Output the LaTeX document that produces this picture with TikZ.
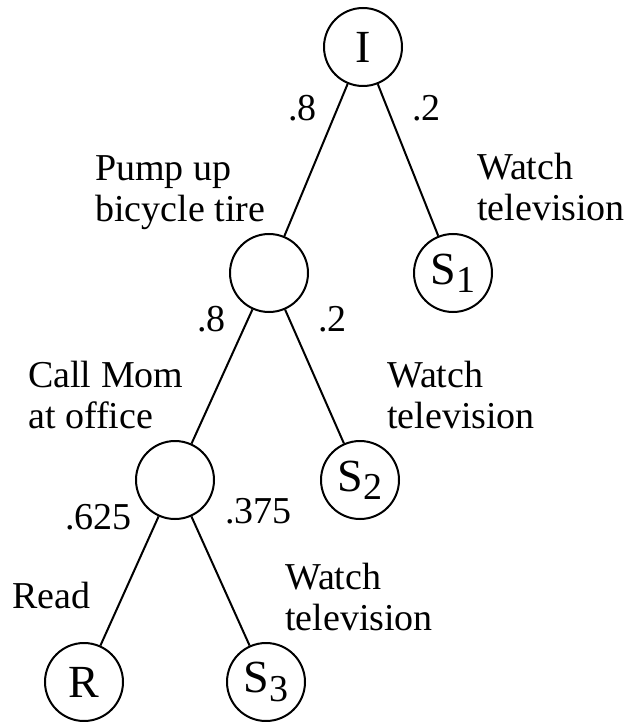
\documentclass[tikz,border=0pt]{standalone}
\usepackage{fontspec}
\setmainfont{Liberation Serif}
\newcommand\subidx[1]{\raisebox{-0.18em}{\fontsize{38}{38}\selectfont #1}}
\begin{document}
\begin{tikzpicture}[x=1pt,y=-1pt,
  state/.style={circle, draw, line width=2pt, minimum size=78pt, inner sep=0pt, font=\fontsize{46}{46}\selectfont},
  lbl/.style={anchor=base west, inner sep=0pt, align=left, font=\fontsize{38}{41}\selectfont},
  branch/.style={line width=2pt}]
\useasboundingbox (0,0) rectangle (633,722);
\node[state] (I)  at (363,47)  {I};
\node[state] (M1) at (269,273) {};
\node[state] (S1) at (453,273) {S\subidx{1}};
\node[state] (M2) at (175,480) {};
\node[state] (S2) at (360,480) {S\subidx{2}};
\node[state] (R)  at (84,682)  {R};
\node[state] (S3) at (266,682) {S\subidx{3}};
\draw[branch] (I) -- (M1);
\draw[branch] (I) -- (S1);
\draw[branch] (M1) -- (M2);
\draw[branch] (M1) -- (S2);
\draw[branch] (M2) -- (R);
\draw[branch] (M2) -- (S3);
\node[lbl] (p1) at (288,121) {.8};
\node[lbl] (p2) at (412,121) {.2};
\node[lbl] (p3) at (197,331) {.8};
\node[lbl] (p4) at (318,331) {.2};
\node[lbl] (p5) at (65,529) {.625};
\node[lbl] (p6) at (225,523) {.375};
\node[lbl] (a1) at (95,221) {Pump up\\bicycle tire};
\node[lbl] (w1) at (477,220) {Watch\\television};
\node[lbl] (a2) at (28,428) {Call Mom\\at office};
\node[lbl] (w2) at (387,428) {Watch\\television};
\node[lbl] (w3) at (285,630) {Watch\\television};
\node[lbl] (rd) at (12,608) {Read};
\end{tikzpicture}
\end{document}
